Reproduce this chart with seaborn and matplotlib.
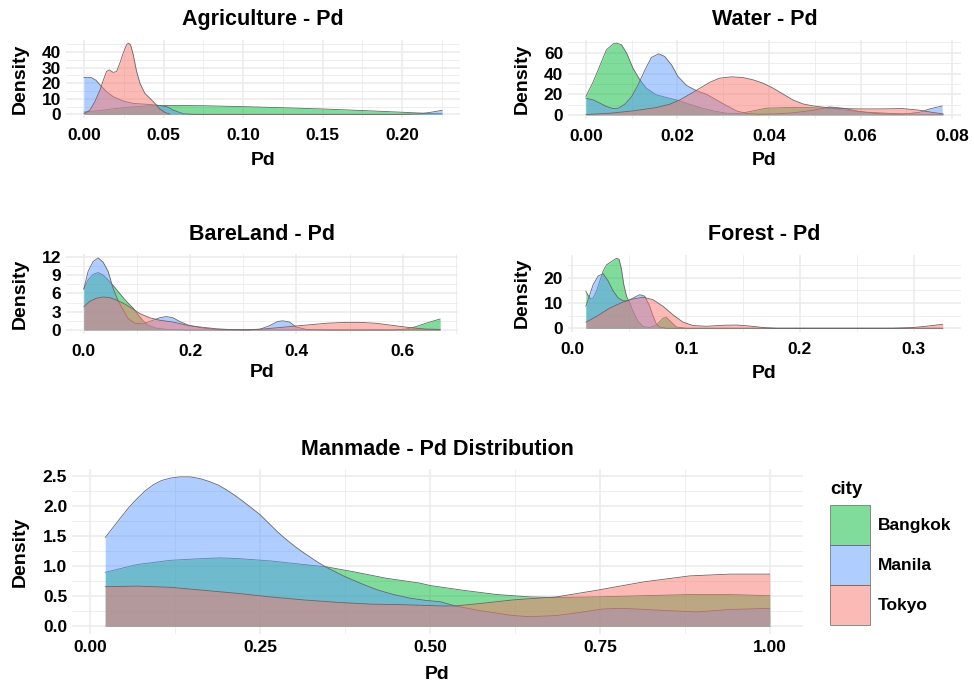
import matplotlib
matplotlib.use("Agg")
import matplotlib.pyplot as plt
from matplotlib.ticker import MultipleLocator, FormatStrFormatter
from matplotlib.patches import Patch
from matplotlib.colors import to_rgba
import pandas as pd
import seaborn as sns

# ---------------- data ----------------
cities = ["Bangkok", "Manila", "Tokyo"]
city_colors = ["#00BA38", "#619CFF", "#F8766D"]
panels = ["Agriculture", "Water", "BareLand", "Forest", "Manmade"]
titles = ["Agriculture - Pd", "Water - Pd", "BareLand - Pd", "Forest - Pd",
          "Manmade - Pd Distribution"]

# Agriculture
agri_bkk_pd = [0.0, 0.01, 0.02, 0.03, 0.04, 0.05, 0.075, 0.10, 0.125, 0.15, 0.175, 0.20, 0.215, 0.225]
agri_bkk_den = [1.5, 2.5, 3.8, 4.8, 5.5, 5.8, 5.6, 5.0, 4.3, 3.5, 2.5, 1.4, 0.7, 0.4]
agri_mnl_pd = [0.0, 0.002, 0.0048, 0.0075, 0.0101, 0.0142, 0.0184, 0.0247, 0.031, 0.0394, 0.0457,
               0.052, 0.056, 0.0624, 0.0687, 0.08, 0.10, 0.15, 0.20, 0.211, 0.2175, 0.225]
agri_mnl_den = [23.7, 23.8, 23.6, 22.0, 19.0, 14.6, 11.4, 8.6, 7.1, 6.5, 6.0,
                5.0, 2.8, 0.4, 0.05, 0.0, 0.0, 0.0, 0.0, 0.4, 1.3, 2.6]
agri_tky_pd = [0.0, 0.0038, 0.0069, 0.0101, 0.0122, 0.0142, 0.0159, 0.0184, 0.0205, 0.0226, 0.0247,
               0.0268, 0.0279, 0.0293, 0.031, 0.0331, 0.0352, 0.0383, 0.0415, 0.0446, 0.0478, 0.0509, 0.0541]
agri_tky_den = [0.4, 2.8, 8.2, 15.7, 22.0, 27.5, 28.6, 27.0, 27.5, 33.0, 39.4,
                44.7, 45.8, 44.7, 38.3, 27.5, 20.0, 13.5, 10.3, 7.1, 3.4, 1.3, 0.2]

# Water
water_bkk_pd = [0, 0.0016, 0.0031, 0.0045, 0.006, 0.0067, 0.0078, 0.0089, 0.0103, 0.0118, 0.0132,
                0.0154, 0.0176, 0.0198, 0.022, 0.0249, 0.0278, 0.0307, 0.0336, 0.0365, 0.0394,
                0.0438, 0.0481, 0.0525, 0.0569, 0.0612, 0.0671, 0.0729, 0.078]
water_bkk_den = [17.7, 32, 48, 63, 68.7, 69.4, 67.7, 59.7, 45, 33.9, 25.8,
                 19.4, 16.8, 14.5, 11.3, 7.1, 3.9, 1.6, 1.3, 3.9, 6.5,
                 7.1, 7.1, 6.5, 4.5, 2.6, 1.3, 0.6, 0.3]
water_mnl_pd = [0, 0.0016, 0.0031, 0.0045, 0.006, 0.0071, 0.0085, 0.01, 0.0114, 0.0129, 0.0143,
                0.0159, 0.0172, 0.0187, 0.0201, 0.022, 0.0241, 0.0263, 0.0285, 0.0307, 0.0329,
                0.0351, 0.038, 0.0416, 0.0452, 0.0496, 0.0532, 0.0561, 0.0598, 0.0641, 0.0692,
                0.0729, 0.0751, 0.0778]
water_mnl_den = [16.1, 14.5, 11.3, 8.1, 6.1, 6.5, 10.3, 17.7, 29, 43.5, 55.5,
                 59, 56.5, 48.4, 37.1, 28.4, 23.5, 20, 14.5, 9, 3.9,
                 1.3, 0.6, 1.0, 2.0, 4.5, 7.7, 6.5, 3.2, 1.0, 0.6,
                 2.6, 5.8, 8.7]
water_tky_pd = [0, 0.0052, 0.0103, 0.0154, 0.0183, 0.0205, 0.0227, 0.0249, 0.0271, 0.0292, 0.0318,
                0.0343, 0.0365, 0.0387, 0.0409, 0.0431, 0.0452, 0.0474, 0.0496, 0.0525, 0.0561,
                0.0598, 0.0641, 0.0692, 0.0729, 0.0758, 0.078]
water_tky_den = [0.3, 1.6, 3.9, 7.1, 10.3, 14.5, 20, 25.8, 31.6, 35.5, 36.8,
                 36.1, 33.9, 30.6, 25.8, 20, 14.5, 10.6, 8.7, 7.1, 6.1,
                 5.8, 5.8, 6.1, 4.5, 2.3, 1.0]

# BareLand
bare_bkk_pd = [0, 0.0081, 0.0175, 0.0269, 0.0363, 0.0457, 0.0551, 0.0645, 0.0739, 0.0833, 0.0927,
               0.1021, 0.1115, 0.1208, 0.1365, 0.1616, 0.2, 0.3, 0.4, 0.5, 0.581, 0.606, 0.625,
               0.6437, 0.6625, 0.6706]
bare_bkk_den = [6.7, 8.2, 9.1, 9.4, 9.0, 8.2, 7.3, 6.3, 5.3, 4.4, 3.6,
                2.5, 1.5, 0.8, 0.3, 0.05, 0.0, 0.0, 0.0, 0.0, 0.0, 0.15, 0.55,
                1.1, 1.6, 1.8]
bare_mnl_pd = [0, 0.0081, 0.0175, 0.0269, 0.0363, 0.0457, 0.0551, 0.0645, 0.0739, 0.0833, 0.0958,
               0.1115, 0.1271, 0.1428, 0.1553, 0.1678, 0.1803, 0.1991, 0.2242, 0.2555, 0.3056,
               0.3306, 0.3494, 0.3651, 0.3745, 0.387, 0.3995, 0.4183, 0.4559, 0.55, 0.6706]
bare_mnl_den = [6.7, 9.6, 11.2, 11.8, 11.1, 9.6, 6.8, 4.8, 3.3, 1.9, 1.1,
                1.0, 1.5, 2.0, 2.2, 2.0, 1.4, 0.7, 0.3, 0.05, 0.0,
                0.1, 0.7, 1.4, 1.5, 1.3, 0.5, 0.1, 0.0, 0.0, 0.0]
bare_tky_pd = [0, 0.0113, 0.0238, 0.0363, 0.0488, 0.0614, 0.0739, 0.0895, 0.1052, 0.124, 0.1428,
               0.1678, 0.1929, 0.2179, 0.2492, 0.2805, 0.3118, 0.3431, 0.3807, 0.4183, 0.4559,
               0.4934, 0.5185, 0.5498, 0.5811, 0.6124, 0.6437, 0.6706]
bare_tky_den = [3.8, 4.7, 5.2, 5.4, 5.3, 4.9, 4.4, 3.6, 2.7, 2.0, 1.6,
                1.3, 0.8, 0.5, 0.2, 0.05, 0.05, 0.2, 0.5, 0.8, 1.1,
                1.25, 1.25, 1.1, 0.75, 0.4, 0.15, 0.1]

# Forest
forest_bkk_pd = [0.012, 0.0137, 0.0161, 0.0184, 0.0213, 0.0243, 0.0272, 0.0301, 0.0345, 0.0389, 0.0412,
                 0.0433, 0.0453, 0.0477, 0.0506, 0.0535, 0.0579, 0.0623, 0.0681, 0.074, 0.0798,
                 0.0827, 0.0871, 0.0915, 0.1003, 0.2, 0.3254]
forest_bkk_den = [14.7, 13.3, 11.7, 12.0, 14.7, 18.7, 22.7, 25.1, 26.4, 27.7, 27.3,
                  23.3, 17.3, 12.7, 10.0, 6.7, 2.7, 0.7, 0.3, 1.3, 4.0,
                  4.3, 2.4, 0.5, 0.0, 0.0, 0.0]
forest_mnl_pd = [0.012, 0.0155, 0.0184, 0.0228, 0.0272, 0.0316, 0.036, 0.0404, 0.0447, 0.0491, 0.0535,
                 0.0594, 0.0637, 0.0681, 0.0711, 0.074, 0.0769, 0.0827, 0.2, 0.3254]
forest_mnl_den = [8.7, 13.3, 17.3, 20.7, 21.6, 18.7, 14.7, 12.0, 10.9, 10.9, 12.0,
                  13.3, 12.7, 8.7, 4.7, 1.6, 0.5, 0.0, 0.0, 0.0]
forest_tky_pd = [0.012, 0.0213, 0.033, 0.0447, 0.0535, 0.0623, 0.0711, 0.0798, 0.0886, 0.0974, 0.1061,
                 0.1178, 0.1325, 0.1442, 0.1558, 0.1675, 0.1792, 0.2816, 0.2991, 0.3108, 0.3254]
forest_tky_den = [2.4, 4.7, 8.0, 10.4, 11.6, 12.3, 11.3, 8.7, 5.3, 2.4, 1.1,
                  0.8, 1.2, 1.3, 0.9, 0.3, 0.0, 0.0, 0.3, 0.8, 1.6]

# Manmade
man_bkk_pd = [0.022, 0.069, 0.118, 0.167, 0.191, 0.216, 0.265, 0.314, 0.348, 0.387, 0.436,
              0.485, 0.5, 0.549, 0.598, 0.647, 0.686, 0.745, 0.814, 0.882, 0.941, 1.0]
man_bkk_den = [0.9, 1.03, 1.1, 1.13, 1.14, 1.13, 1.09, 1.03, 0.99, 0.91, 0.8,
               0.72, 0.68, 0.6, 0.53, 0.49, 0.48, 0.49, 0.51, 0.53, 0.53, 0.51]
man_mnl_pd = [0.022, 0.033, 0.044, 0.056, 0.069, 0.081, 0.093, 0.105, 0.118, 0.132, 0.147,
              0.162, 0.176, 0.189, 0.201, 0.213, 0.225, 0.2375, 0.25, 0.2625, 0.275, 0.287,
              0.299, 0.311, 0.324, 0.336, 0.348, 0.3725, 0.397, 0.4216, 0.446, 0.47, 0.495, 0.515,
              0.537, 0.574, 0.622, 0.647, 0.686, 0.72, 0.755, 0.784, 0.818, 0.853,
              0.892, 0.941, 1.0]
man_mnl_den = [1.48, 1.64, 1.8, 1.97, 2.13, 2.26, 2.36, 2.43, 2.47, 2.49, 2.49,
               2.46, 2.41, 2.35, 2.27, 2.18, 2.08, 1.97, 1.86, 1.72, 1.58, 1.46,
               1.35, 1.25, 1.15, 1.06, 0.98, 0.84, 0.72, 0.61, 0.53, 0.47, 0.43, 0.41,
               0.34, 0.26, 0.18, 0.16, 0.18, 0.23, 0.29, 0.30, 0.28, 0.26,
               0.24, 0.28, 0.30]
man_tky_pd = [0.022, 0.069, 0.118, 0.167, 0.216, 0.265, 0.314, 0.363, 0.412, 0.461, 0.515,
              0.537, 0.574, 0.622, 0.686, 0.745, 0.814, 0.882, 0.941, 1.0]
man_tky_den = [0.66, 0.67, 0.65, 0.6, 0.55, 0.49, 0.44, 0.40, 0.37, 0.36, 0.34,
               0.34, 0.38, 0.44, 0.49, 0.6, 0.74, 0.84, 0.87, 0.87]

series = {
    ("Agriculture", "Bangkok"): (agri_bkk_pd, agri_bkk_den),
    ("Agriculture", "Manila"): (agri_mnl_pd, agri_mnl_den),
    ("Agriculture", "Tokyo"): (agri_tky_pd, agri_tky_den),
    ("Water", "Bangkok"): (water_bkk_pd, water_bkk_den),
    ("Water", "Manila"): (water_mnl_pd, water_mnl_den),
    ("Water", "Tokyo"): (water_tky_pd, water_tky_den),
    ("BareLand", "Bangkok"): (bare_bkk_pd, bare_bkk_den),
    ("BareLand", "Manila"): (bare_mnl_pd, bare_mnl_den),
    ("BareLand", "Tokyo"): (bare_tky_pd, bare_tky_den),
    ("Forest", "Bangkok"): (forest_bkk_pd, forest_bkk_den),
    ("Forest", "Manila"): (forest_mnl_pd, forest_mnl_den),
    ("Forest", "Tokyo"): (forest_tky_pd, forest_tky_den),
    ("Manmade", "Bangkok"): (man_bkk_pd, man_bkk_den),
    ("Manmade", "Manila"): (man_mnl_pd, man_mnl_den),
    ("Manmade", "Tokyo"): (man_tky_pd, man_tky_den),
}
rows = []
for (panel, city), (xs, ys) in series.items():
    for xv, yv in zip(xs, ys):
        rows.append((panel, city, xv, yv))
df = pd.DataFrame(rows, columns=["panel", "city", "Pd", "density"])

# ---------------- style ----------------
sns.set_theme(style="whitegrid")
plt.rcParams["font.family"] = ["Liberation Sans", "DejaVu Sans"]
plt.rcParams["text.color"] = "black"
plt.rcParams["axes.labelcolor"] = "black"
plt.rcParams["axes.titlecolor"] = "black"
palette = dict(zip(cities, city_colors))
OUTLINE = "#666666"
GRID = "#ebebeb"

W, H = 974, 686
fig = plt.figure(figsize=(W / 100, H / 100), dpi=100)
fig.patch.set_facecolor("white")

# panel boxes in pixels: left, top, right, bottom
boxes = {
    "Agriculture": (66, 39.5, 460, 118),
    "Water": (568, 39.5, 961, 118.5),
    "BareLand": (66, 254.3, 458, 333.6),
    "Forest": (568, 254.8, 960.6, 331.8),
    "Manmade": (72, 469.4, 803, 633.8),
}
# title baseline y, xlabel baseline y, ylabel centre x (pixels)
text_pos = {
    "Agriculture": (25, 165, 20),
    "Water": (25, 165, 522),
    "BareLand": (240, 377, 20),
    "Forest": (240, 378, 522),
    "Manmade": (455, 679, 20),
}
locs = {  # x major, x minor, y major, y minor, x fmt, y fmt
    "Agriculture": (0.05, 0.025, 10, 5, "%.2f", "%d"),
    "Water": (0.02, 0.01, 20, 10, "%.2f", "%d"),
    "BareLand": (0.2, 0.1, 3, 1.5, "%.1f", "%d"),
    "Forest": (0.1, 0.05, 10, 5, "%.1f", "%d"),
    "Manmade": (0.25, 0.125, 0.5, 0.25, "%.2f", "%.1f"),
}
xpads = {"Agriculture": 7.5, "Water": 7.5, "BareLand": 7.5, "Forest": 7.5, "Manmade": 4.5}

TICK_FS = 12.5
LAB_FS = 14
TITLE_FS = 15.5

for panel, title in zip(panels, titles):
    l, t, r, b = boxes[panel]
    ax = fig.add_axes([l / W, 1 - b / H, (r - l) / W, (b - t) / H])
    ax.set_facecolor("white")
    d = df[df.panel == panel]
    for i, city in enumerate(cities):
        s = d[d.city == city].sort_values("Pd")
        ax.fill_between(s["Pd"], 0, s["density"], color=to_rgba(palette[city], 0.5),
                        lw=0, zorder=2 + 2 * i)
        sns.lineplot(data=s, x="Pd", y="density", ax=ax, color=OUTLINE, lw=0.6,
                     estimator=None, sort=False, legend=False, zorder=3 + 2 * i)
    xmin, xmax = d["Pd"].min(), d["Pd"].max()
    xr = xmax - xmin
    ymax = d["density"].max()
    ax.set_xlim(xmin - 0.05 * xr, xmax + 0.05 * xr)
    ax.set_ylim(-0.05 * ymax, 1.05 * ymax)

    xM, xm, yM, ym, xf, yf = locs[panel]
    ax.xaxis.set_major_locator(MultipleLocator(xM))
    ax.xaxis.set_minor_locator(MultipleLocator(xm))
    ax.yaxis.set_major_locator(MultipleLocator(yM))
    ax.yaxis.set_minor_locator(MultipleLocator(ym))
    ax.xaxis.set_major_formatter(FormatStrFormatter(xf))
    ax.yaxis.set_major_formatter(FormatStrFormatter(yf))
    ax.set_axisbelow(True)
    ax.grid(True, which="major", color=GRID, lw=1.1)
    ax.grid(True, which="minor", color=GRID, lw=0.6)
    for sp in ax.spines.values():
        sp.set_visible(False)
    ax.tick_params(which="both", length=0)
    ax.tick_params(axis="x", which="major", pad=xpads[panel], labelsize=TICK_FS, labelcolor="black")
    ax.tick_params(axis="y", which="major", pad=3.5, labelsize=TICK_FS, labelcolor="black")
    for lab in ax.get_xticklabels() + ax.get_yticklabels():
        lab.set_fontweight("bold")

    tb, xb, yc = text_pos[panel]
    h = b - t
    w = r - l
    ax.set_title(title, fontsize=TITLE_FS, fontweight="bold", pad=0,
                 y=(b - tb) / h, va="baseline", color="black")
    ax.set_xlabel("Pd", fontsize=LAB_FS, fontweight="bold", color="black")
    ax.set_ylabel("Density", fontsize=LAB_FS, fontweight="bold", color="black")
    ax.xaxis.set_label_coords(0.5, (b - xb) / h)
    ax.xaxis.label.set_verticalalignment("baseline")
    ax.yaxis.set_label_coords((yc - l) / w, 0.5)
    ax.yaxis.label.set_verticalalignment("center")

# legend
handles = [Patch(facecolor=to_rgba(c, 0.5), edgecolor=OUTLINE, linewidth=0.5) for c in city_colors]
LEG_FS = 12.5
fs_px = LEG_FS * 100 / 72
hh = (40 / fs_px - 0.245) / 0.65
fig.legend(handles, cities, loc="upper left", bbox_to_anchor=(830 / W, 1 - 505 / H),
           frameon=False, borderpad=0, borderaxespad=0, labelspacing=0,
           handlelength=40 / fs_px, handleheight=hh, handletextpad=8 / fs_px,
           prop={"weight": "bold", "size": LEG_FS})
fig.text(830 / W, 1 - 494 / H, "city", fontsize=13.5, fontweight="bold", va="baseline",
         ha="left", color="black")

fig.savefig("out.png", dpi=100, facecolor="white")
